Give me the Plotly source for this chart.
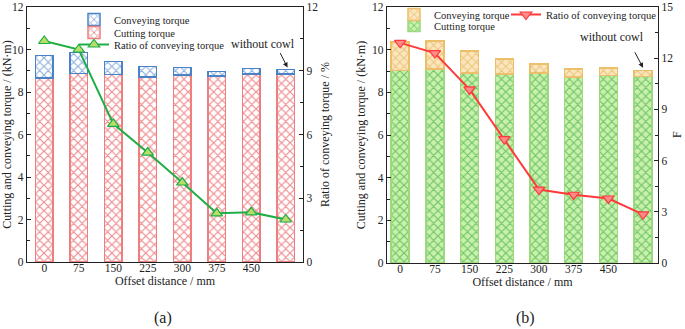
import plotly.graph_objects as go

categories = ["0", "75", "150", "225", "300", "375", "450", " "]

# Panel (a)
a_cutting = [8.65, 8.88, 8.83, 8.70, 8.80, 8.75, 8.85, 8.85]
a_total = [9.72, 9.86, 9.44, 9.20, 9.15, 8.97, 9.10, 9.05]
a_conveying = [round(t - c, 3) for t, c in zip(a_total, a_cutting)]
a_ratio = [10.4, 10.0, 6.5, 5.15, 3.74, 2.29, 2.34, 2.0]

# Panel (b)
b_cutting = [9.02, 9.10, 8.90, 8.85, 8.90, 8.72, 8.80, 8.75]
b_total = [10.37, 10.40, 9.93, 9.57, 9.33, 9.10, 9.15, 9.03]
b_conveying = [round(t - c, 3) for t, c in zip(b_total, b_cutting)]
b_ratio = [12.9, 12.3, 10.17, 7.26, 4.3, 4.0, 3.78, 2.85]

FONT = "Liberation Serif, Times New Roman, serif"
W, H = 685, 329

def px_x(p):
    return p / W

def px_y(p):
    return 1 - p / H

fig = go.Figure()

BW = 0.52

def pat_marker(line_c, fg, bg):
    return dict(color="rgba(0,0,0,0)", line=dict(color=line_c, width=1.5),
                pattern=dict(shape="x", fgcolor=fg, bgcolor=bg,
                             size=6, solidity=0.35, fillmode="overlay"))

# ---- Panel (a)
fig.add_trace(go.Bar(
    x=categories, y=a_cutting, name="Cutting torque", width=BW,
    xaxis="x", yaxis="y", legend="legend2",
    marker=pat_marker("#ee7f7f", "#e0141c", "#ffffff"),
))
fig.add_trace(go.Bar(
    x=categories, y=a_conveying, name="Conveying torque", width=BW,
    xaxis="x", yaxis="y", legend="legend",
    marker=pat_marker("#4a82c8", "#1f62b8", "#ffffff"),
))
fig.add_trace(go.Scatter(
    x=categories, y=a_ratio, name="Ratio of conveying torque",
    xaxis="x", yaxis="y2", legend="legend3",
    mode="lines+markers",
    line=dict(color="#1fae45", width=2),
    marker=dict(symbol="triangle-up", size=10, color="#b5df6a",
                line=dict(color="#1fae45", width=1.2)),
))

# ---- Panel (b)
fig.add_trace(go.Bar(
    x=categories, y=b_cutting, name="Cutting torque", width=BW,
    xaxis="x2", yaxis="y3", legend="legend5",
    marker=pat_marker("#9bd87e", "#16961c", "#c9f1ae"),
))
fig.add_trace(go.Bar(
    x=categories, y=b_conveying, name="Conveying torque", width=BW,
    xaxis="x2", yaxis="y3", legend="legend4",
    marker=pat_marker("#ecc06a", "#dca544", "#fbe6bd"),
))
fig.add_trace(go.Scatter(
    x=categories, y=b_ratio, name="Ratio of conveying torque",
    xaxis="x2", yaxis="y4", legend="legend6",
    mode="lines+markers",
    line=dict(color="#ff3a3a", width=2),
    marker=dict(symbol="triangle-down", size=10, color="#ff8a8a",
                line=dict(color="#ff3a3a", width=1.2)),
))

tickfont = dict(family=FONT, size=11.5, color="#222")
titlefont = dict(family=FONT, size=12, color="#222")

def yax(domain, rng, dtick, title, side, overlaying=None, anchor=None, minor=None, standoff=3):
    d = dict(
        domain=domain, range=rng, dtick=dtick, tick0=0, side=side,
        showgrid=False, zeroline=False, showline=True, linecolor="#222", linewidth=1.2,
        ticks="inside", ticklen=4, tickcolor="#222", tickfont=tickfont,
        ticklabeloverflow="allow", automargin=False,
        title=dict(text=title, font=titlefont, standoff=standoff),
        minor=dict(dtick=minor, ticks="inside", ticklen=2.5, tickcolor="#222"),
    )
    if overlaying:
        d["overlaying"] = overlaying
    if anchor:
        d["anchor"] = anchor
    return d

def xax(domain, anchor, rng):
    return dict(domain=domain, anchor=anchor, type="category",
                categoryorder="array", categoryarray=categories,
                range=rng, showline=True, mirror=True, linecolor="#222",
                linewidth=1.2, ticks="", tickfont=tickfont, showgrid=False,
                ticklabelstandoff=-5, automargin=False,
                title=dict(text="Offset distance / mm", font=titlefont, standoff=0))

ydom = [px_y(262), px_y(7)]
ydom2 = [px_y(263), px_y(7)]

legfont = dict(family=FONT, size=10.5, color="#222")

def leg(xp, yp):
    return dict(x=px_x(xp), y=px_y(max(yp - 15, 0)), xanchor="left", yanchor="top",
                bgcolor="rgba(255,255,255,0)", font=legfont, itemwidth=30)

fig.update_layout(
    width=W, height=H,
    margin=dict(l=0, r=0, t=0, b=0, autoexpand=False),
    paper_bgcolor="white", plot_bgcolor="white",
    barmode="stack",
    showlegend=True,
    font=dict(family=FONT, color="#222"),
    xaxis=xax([px_x(27), px_x(303)], "y", [-0.5, 7.5]),
    yaxis=yax(ydom, [0, 12], 2, "Cutting and conveying torque / (kN·m)", "left",
              anchor="x", minor=1),
    yaxis2=yax(ydom, [0, 12], 3, "Ratio of conveying torque / %", "right",
               overlaying="y", anchor="x", minor=1.5),
    xaxis2=xax([px_x(387), px_x(658)], "y3", [-0.38, 7.43]),
    yaxis3=yax(ydom2, [0, 12], 2, "Cutting and conveying torque / (kN·m)", "left",
               anchor="x2", minor=1),
    yaxis4=yax(ydom2, [0, 15], 3, "", "right", overlaying="y3", anchor="x2",
               minor=1.5, standoff=0),
    legend=leg(74, 20),
    legend2=leg(74, 33),
    legend3=leg(74, 45),
    legend4=leg(394, 14),
    legend5=leg(394, 26),
    legend6=leg(506, 14),
    annotations=[
        dict(x=px_x(263), y=px_y(44), xref="paper", yref="paper", text="without cowl",
             showarrow=False, font=dict(family=FONT, size=12), xanchor="center", yanchor="middle"),
        dict(x=px_x(612), y=px_y(37), xref="paper", yref="paper", text="without cowl",
             showarrow=False, font=dict(family=FONT, size=12), xanchor="center", yanchor="middle"),
        dict(x=px_x(163), y=px_y(318), xref="paper", yref="paper", text="(a)",
             showarrow=False, font=dict(family=FONT, size=16), xanchor="center", yanchor="middle"),
        dict(x=px_x(525), y=px_y(318), xref="paper", yref="paper", text="(b)",
             showarrow=False, font=dict(family=FONT, size=16), xanchor="center", yanchor="middle"),
        dict(x=px_x(677), y=px_y(135), xref="paper", yref="paper", text="F",
             textangle=-90, showarrow=False, font=dict(family=FONT, size=12),
             xanchor="center", yanchor="middle"),
    ],
)

# arrows (pointing to the last bar of each panel)
fig.add_annotation(xref="x", yref="y", x=7.05, y=9.15, ax=-8, ay=-16,
                   text="", showarrow=True, arrowhead=2, arrowsize=1, arrowwidth=1,
                   arrowcolor="#222")
fig.add_annotation(xref="x2", yref="y3", x=7.0, y=9.15, ax=-9, ay=-17,
                   text="", showarrow=True, arrowhead=2, arrowsize=1, arrowwidth=1,
                   arrowcolor="#222")

fig.write_html("out.html", config={"displayModeBar": False},
               post_script="document.body.style.margin='0px';document.body.style.overflow='hidden';")
